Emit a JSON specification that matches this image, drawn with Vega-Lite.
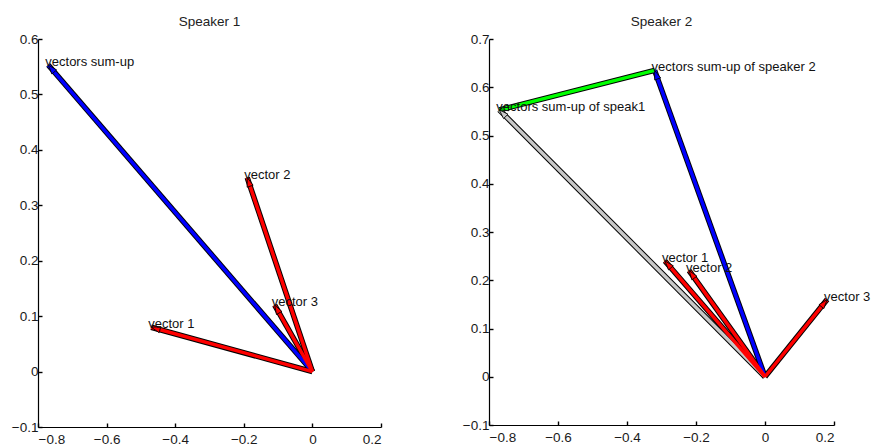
{
  "$schema": "https://vega.github.io/schema/vega-lite/v6.json",
  "background": "white",
  "padding": {"left": 11, "top": 14, "right": 0, "bottom": 0},
  "bounds": "flush",
  "spacing": 108,
  "config": {
    "view": {"stroke": null},
    "font": "Liberation Sans",
    "axis": {
      "grid": false,
      "domain": true,
      "ticks": true,
      "domainColor": "#000000",
      "domainWidth": 1.2,
      "domainOpacity": 1,
      "tickColor": "#000000",
      "tickWidth": 1.4,
      "tickOpacity": 1,
      "tickSize": -4,
      "labelPadding": 4,
      "labelFontSize": 13.5,
      "labelColor": "#1a1a1a",
      "labelFont": "Liberation Sans",
      "title": null,
      "zindex": 1,
      "format": ".1~f"
    },
    "axisX": {"labelPadding": 9, "minExtent": 24, "maxExtent": 24},
    "axisY": {"minExtent": 27, "maxExtent": 27},
    "title": {"fontSize": 13.5, "fontWeight": "normal", "color": "#222222", "font": "Liberation Sans", "offset": 4}
  },
  "datasets": {
    "s1": [
      {"name": "sum", "kind": "sum", "x0": 0, "y0": 0, "x1": -0.77, "y1": 0.553, "label": "vectors sum-up"},
      {"name": "v1", "kind": "component", "x0": 0, "y0": 0, "x1": -0.47, "y1": 0.08, "label": "vector 1"},
      {"name": "v2", "kind": "component", "x0": 0, "y0": 0, "x1": -0.19, "y1": 0.35, "label": "vector 2"},
      {"name": "v3", "kind": "component", "x0": 0, "y0": 0, "x1": -0.11, "y1": 0.12, "label": "vector 3"}
    ],
    "s2": [
      {"name": "prev", "kind": "previous", "x0": 0, "y0": 0, "x1": -0.77, "y1": 0.553, "label": "vectors sum-up of speak1"},
      {"name": "sum", "kind": "sum", "x0": 0, "y0": 0, "x1": -0.32, "y1": 0.635, "label": "vectors sum-up of speaker 2"},
      {"name": "v1", "kind": "component", "x0": 0, "y0": 0, "x1": -0.29, "y1": 0.24, "label": "vector 1"},
      {"name": "v2", "kind": "component", "x0": 0, "y0": 0, "x1": -0.22, "y1": 0.22, "label": "vector 2"},
      {"name": "v3", "kind": "component", "x0": 0, "y0": 0, "x1": 0.18, "y1": 0.16, "label": "vector 3"},
      {"name": "diff", "kind": "difference", "x0": -0.32, "y0": 0.635, "x1": -0.77, "y1": 0.553, "label": ""}
    ]
  },
  "hconcat": [
    {
      "width": 343,
      "height": 388,
      "title": {"text": "Speaker 1"},
      "data": {"name": "s1"},
      "transform": [
        {"calculate": "atan2((datum.x1 - datum.x0) * 343, (datum.y1 - datum.y0) * 554) * 180 / PI", "as": "ang"}
      ],
      "encoding": {
        "x": {"field": "x0", "type": "quantitative", "scale": {"domain": [-0.8, 0.2], "nice": false, "zero": false}, "axis": {"values": [-0.8, -0.6, -0.4, -0.2, 0, 0.2]}},
        "y": {"field": "y0", "type": "quantitative", "scale": {"domain": [-0.1, 0.6], "nice": false, "zero": false}, "axis": {"values": [-0.1, 0, 0.1, 0.2, 0.3, 0.4, 0.5, 0.6]}}
      },
      "layer": [
        {"data": {"values": [{}]}, "mark": {"type": "rule", "color": "#000000", "strokeWidth": 1.2}, "encoding": {"x": {"datum": -0.8, "type": "quantitative"}, "y": {"datum": -0.1, "type": "quantitative"}, "y2": {"datum": 0.6}}},
        {"data": {"values": [{}]}, "mark": {"type": "rule", "color": "#000000", "strokeWidth": 1.2}, "encoding": {"x": {"datum": -0.8, "type": "quantitative"}, "x2": {"datum": 0.2}, "y": {"datum": -0.1, "type": "quantitative"}}},
        {"mark": {"type": "rule", "color": "#000000", "strokeWidth": 5.5}, "encoding": {"x2": {"field": "x1"}, "y2": {"field": "y1"}}},
        {"mark": {"type": "rule", "strokeWidth": 3.5}, "encoding": {"x2": {"field": "x1"}, "y2": {"field": "y1"}, "color": {"field": "kind", "type": "nominal", "legend": null, "scale": {"domain": ["component", "sum", "previous", "difference"], "range": ["#ff0000", "#0000ff", "#c8c8c8", "#00ff00"]}}}},
        {"mark": {"type": "point", "shape": "M0,0 L0.55,1.6 L-0.55,1.6 Z", "filled": true, "stroke": "#000000", "strokeWidth": 0.8, "size": 130, "opacity": 1},
         "encoding": {"x": {"field": "x1", "type": "quantitative"}, "y": {"field": "y1", "type": "quantitative"}, "angle": {"field": "ang", "type": "quantitative", "scale": null},
           "fill": {"field": "kind", "type": "nominal", "legend": null, "scale": {"domain": ["component", "sum", "previous", "difference"], "range": ["#ff0000", "#0000ff", "#c8c8c8", "#00ff00"]}}}},
        {"mark": {"type": "text", "align": "left", "baseline": "middle", "dx": -3, "dy": -3, "fontSize": 13, "color": "#111111", "font": "Liberation Sans"},
         "encoding": {"x": {"field": "x1", "type": "quantitative"}, "y": {"field": "y1", "type": "quantitative"}, "text": {"field": "label"}}}
      ]
    },
    {
      "width": 345,
      "height": 386,
      "title": {"text": "Speaker 2"},
      "data": {"name": "s2"},
      "transform": [
        {"calculate": "atan2((datum.x1 - datum.x0) * 345, (datum.y1 - datum.y0) * 483) * 180 / PI", "as": "ang"}
      ],
      "encoding": {
        "x": {"field": "x0", "type": "quantitative", "scale": {"domain": [-0.8, 0.2], "nice": false, "zero": false}, "axis": {"values": [-0.8, -0.6, -0.4, -0.2, 0, 0.2]}},
        "y": {"field": "y0", "type": "quantitative", "scale": {"domain": [-0.1, 0.7], "nice": false, "zero": false}, "axis": {"values": [-0.1, 0, 0.1, 0.2, 0.3, 0.4, 0.5, 0.6, 0.7]}}
      },
      "layer": [
        {"data": {"values": [{}]}, "mark": {"type": "rule", "color": "#000000", "strokeWidth": 1.2}, "encoding": {"x": {"datum": -0.8, "type": "quantitative"}, "y": {"datum": -0.1, "type": "quantitative"}, "y2": {"datum": 0.7}}},
        {"data": {"values": [{}]}, "mark": {"type": "rule", "color": "#000000", "strokeWidth": 1.2}, "encoding": {"x": {"datum": -0.8, "type": "quantitative"}, "x2": {"datum": 0.2}, "y": {"datum": -0.1, "type": "quantitative"}}},
        {"mark": {"type": "rule", "color": "#000000", "strokeWidth": 5.5}, "encoding": {"x2": {"field": "x1"}, "y2": {"field": "y1"}}},
        {"mark": {"type": "rule", "strokeWidth": 3.5}, "encoding": {"x2": {"field": "x1"}, "y2": {"field": "y1"}, "color": {"field": "kind", "type": "nominal", "legend": null, "scale": {"domain": ["component", "sum", "previous", "difference"], "range": ["#ff0000", "#0000ff", "#c8c8c8", "#00ff00"]}}}},
        {"mark": {"type": "point", "shape": "M0,0 L0.55,1.6 L-0.55,1.6 Z", "filled": true, "stroke": "#000000", "strokeWidth": 0.8, "size": 130, "opacity": 1},
         "encoding": {"x": {"field": "x1", "type": "quantitative"}, "y": {"field": "y1", "type": "quantitative"}, "angle": {"field": "ang", "type": "quantitative", "scale": null},
           "fill": {"field": "kind", "type": "nominal", "legend": null, "scale": {"domain": ["component", "sum", "previous", "difference"], "range": ["#ff0000", "#0000ff", "#c8c8c8", "#00ff00"]}}}},
        {"mark": {"type": "text", "align": "left", "baseline": "middle", "dx": -3, "dy": -3, "fontSize": 13, "color": "#111111", "font": "Liberation Sans"},
         "encoding": {"x": {"field": "x1", "type": "quantitative"}, "y": {"field": "y1", "type": "quantitative"}, "text": {"field": "label"}}}
      ]
    }
  ]
}
